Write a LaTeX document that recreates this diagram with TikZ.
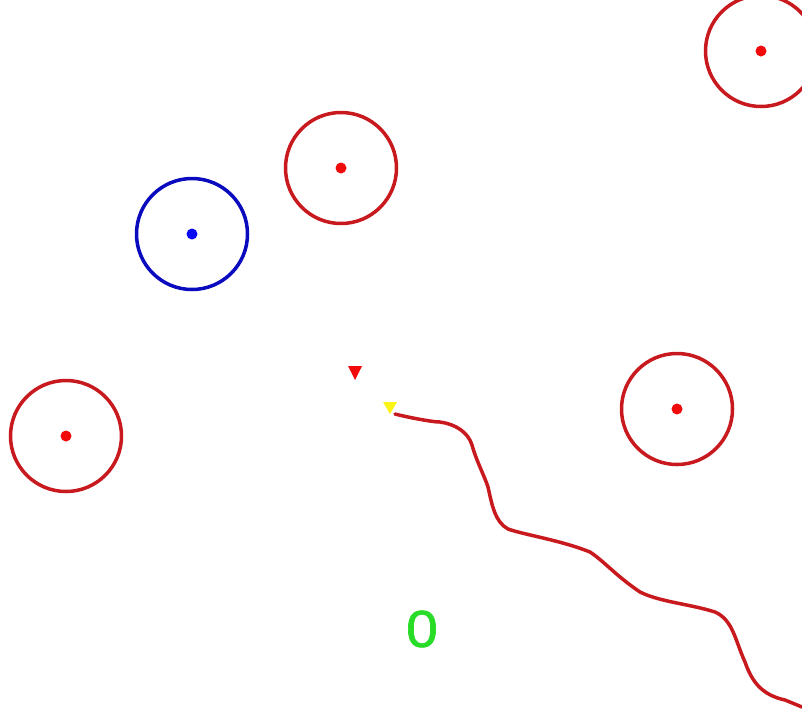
\documentclass[tikz,border=0pt]{standalone}
\usepackage{fontspec}
\setmainfont{Liberation Sans}
\newfontfamily\numfont[FakeBold=1.2]{Liberation Sans}
\definecolor{ringred}{RGB}{200,25,30}
\definecolor{dotred}{RGB}{240,10,10}
\definecolor{ringblue}{RGB}{10,10,190}
\definecolor{dotblue}{RGB}{10,10,245}
\definecolor{numgreen}{RGB}{40,220,40}
\definecolor{tyellow}{RGB}{250,245,20}
\begin{document}
\begin{tikzpicture}[x=1pt,y=-1pt,
  ring/.style={circle,draw=ringred,line width=3.5pt,minimum size=111pt,inner sep=0pt},
  bluering/.style={ring,draw=ringblue},
  dot/.style={circle,fill=dotred,minimum size=11pt,inner sep=0pt},
  bluedot/.style={dot,fill=dotblue},
  trail/.style={draw=ringred,line width=3.5pt,line join=round,line cap=round}]
\useasboundingbox[fill=white] (0,0) rectangle (802,716);
% rings
\node[ring] (r1) at (761,51) {};
\node[dot] (d1) at (761,51) {};
\node[ring] (r2) at (341,168) {};
\node[dot] (d2) at (341,168) {};
\node[bluering] (b1) at (192,234) {};
\node[bluedot] (bd1) at (192,234) {};
\node[ring] (r3) at (66,436) {};
\node[dot] (d3) at (66,436) {};
\node[ring] (r4) at (677,409) {};
\node[dot] (d4) at (677,409) {};
% triangles
\fill[dotred] (348,366) -- (362,366) -- (355,380) -- cycle;
\fill[tyellow] (383,402) -- (397,402) -- (390,414) -- cycle;
\coordinate (tstart) at (395,414);
\coordinate (tend) at (802,707);
% trail
\draw[trail] (tstart) to[out=-15,in=180,looseness=0.5] (440,422)
  .. controls (455,424) and (468,432) .. (472,445)
  .. controls (476,460) and (484,475) .. (488,487)
  .. controls (492,505) and (495,522) .. (508,529)
  .. controls (525,535) and (560,540) .. (590,552)
  .. controls (605,562) and (615,575) .. (640,592)
  .. controls (660,602) and (690,604) .. (715,612)
  .. controls (733,620) and (735,640) .. (745,662)
  .. controls (752,682) and (762,695) .. (785,700)
  -- (tend);
% counter
\node[text=numgreen,font=\numfont\fontsize{52}{52}\selectfont,xscale=1.1] (num) at (422,629) {0};
\end{tikzpicture}
\end{document}
